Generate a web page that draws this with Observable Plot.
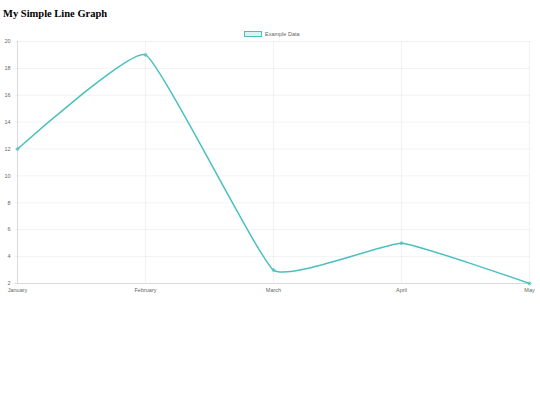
<!DOCTYPE html>
<html>
<head>
<meta charset="utf-8">
<script src="https://cdn.jsdelivr.net/npm/d3@7"></script>
<script src="https://cdn.jsdelivr.net/npm/@observablehq/plot@0.6"></script>
<style>
  html, body { margin: 0; padding: 0; background: #fff; width: 540px; height: 405px; overflow: hidden; }
  #title { position: absolute; left: 3px; top: 8px; margin: 0; font: bold 10.5px "Liberation Serif", "DejaVu Serif", serif; color: #000; }
  #legend { position: absolute; left: 244px; top: 31px; font: 5.5px "Liberation Sans", Arial, sans-serif; color: #666; display: flex; align-items: center; }
  #legend .sw { width: 16px; height: 4px; border: 1px solid rgb(75,192,192); background: rgba(75,192,192,0.2); margin-right: 3px; }
  #chart { position: absolute; left: 0; top: 38px; }
</style>
</head>
<body>
<h1 id="title">My Simple Line Graph</h1>
<div id="legend"><span class="sw"></span><span>Example Data</span></div>
<div id="chart"></div>
<script>
const months = ["January", "February", "March", "April", "May"];
const values = [12, 19, 3, 5, 2];
const yTicks = [2, 4, 6, 8, 10, 12, 14, 16, 18, 20];
const seriesName = "Example Data";

const data = months.map((m, i) => ({month: m, value: values[i], series: seriesName}));
const lineColor = "rgb(75,192,192)";

const chart = Plot.plot({
  width: 540,
  height: 262,
  marginTop: 3,
  marginBottom: 17,
  marginLeft: 15,
  marginRight: 10,
  style: {fontFamily: "Liberation Sans, Arial, sans-serif", fontSize: "5.5px", color: "#666", background: "#fff"},
  x: {type: "point", domain: months, padding: 0, label: null},
  y: {domain: [2, 20], label: null},
  marks: [
    Plot.gridX(months, {stroke: "#000", strokeOpacity: 0.08, strokeWidth: 0.7}),
    Plot.gridY(yTicks, {stroke: "#000", strokeOpacity: 0.08, strokeWidth: 0.7}),
    Plot.ruleX([months[0]], {stroke: "#000", strokeOpacity: 0.12, strokeWidth: 0.8}),
    Plot.ruleY([2], {stroke: "#000", strokeOpacity: 0.12, strokeWidth: 0.8}),
    Plot.axisY(yTicks, {tickSize: 0, tickPadding: 5, fill: "#666", fontSize: 5.5}),
    Plot.axisX(months, {tickSize: 0, tickPadding: 5, fill: "#666", fontSize: 5.5}),
    Plot.line(data, {x: "month", y: "value", stroke: lineColor, strokeWidth: 1.5, curve: "cardinal", tension: 0.65}),
    Plot.dot(data, {x: "month", y: "value", r: 1.4, fill: "rgba(75,192,192,0.3)", stroke: lineColor, strokeWidth: 0.8})
  ]
});
document.getElementById("chart").appendChild(chart);
</script>
</body>
</html>
